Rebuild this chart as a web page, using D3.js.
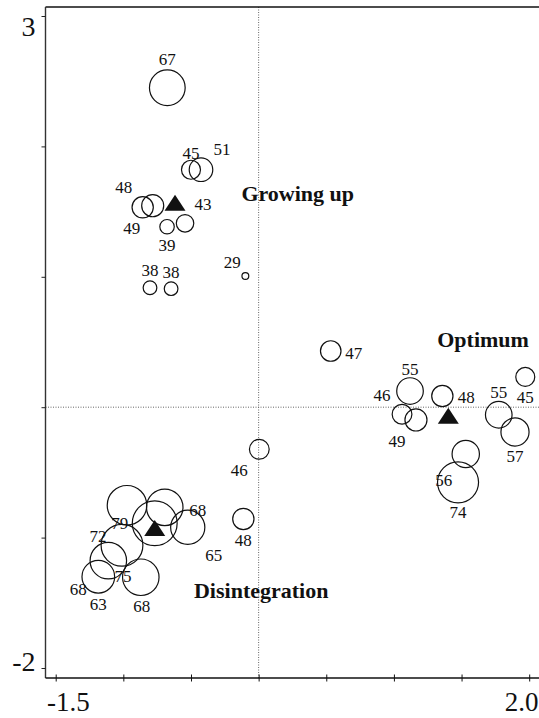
<!DOCTYPE html>
<html>
<head>
<meta charset="utf-8">
<script src="https://cdn.jsdelivr.net/npm/d3@7"></script>
<style>
  html, body { margin: 0; padding: 0; background: #fff; }
  svg { display: block; }
  text { font-family: "Liberation Serif", "Times New Roman", serif; fill: #111; }
</style>
</head>
<body>
<div id="chart"></div>
<script>
// Ordination scores of stands (axis 1, axis 2) with stand age as the label
const groups = ["Growing up", "Growing up", "Growing up", "Growing up", "Growing up",
  "Growing up", "Growing up", "Growing up", "Growing up", "Growing up",
  "Optimum", "Optimum", "Optimum", "Optimum", "Optimum",
  "Optimum", "Optimum", "Optimum", "Optimum", "Optimum",
  "Disintegration", "Disintegration", "Disintegration", "Disintegration", "Disintegration",
  "Disintegration", "Disintegration", "Disintegration", "Disintegration", "Disintegration"];
const axis1 = [-0.675, -0.500, -0.426, -0.857, -0.783, -0.544, -0.677, -0.803, -0.647, -0.098,
  0.533, 1.119, 1.060, 1.163, 1.358, 1.775, 1.971, 1.895, 1.531, 1.474,
  0.005, -0.113, -0.768, -1.010, -0.973, -0.694, -0.524, -1.111, -1.185, -0.871];
const axis2 = [2.450, 1.821, 1.821, 1.533, 1.545, 1.410, 1.384, 0.916, 0.909, 1.006,
  0.431, 0.124, -0.054, -0.098, 0.086, -0.058, 0.232, -0.190, -0.359, -0.576,
  -0.323, -0.857, -0.890, -1.059, -0.752, -0.768, -0.921, -1.177, -1.300, -1.304];
const ages = [67, 45, 51, 48, 49, 43, 39, 38, 38, 29,
  47, 55, 46, 49, 48, 55, 45, 57, 56, 74,
  46, 48, 79, 75, 72, 68, 65, 68, 63, 68];

// Group centroids
const centroidNames = ["Growing up", "Optimum", "Disintegration"];
const centroidX = [-0.618, 1.402, -0.768];
const centroidY = [1.568, -0.065, -0.926];

// Group name annotations
const groupLabelX = [0.289, 1.659, 0.019];
const groupLabelY = [1.584, 0.464, -1.466];

// Axis ticks
const xTicks = [-1.5, -1.0, -0.5, 0.0, 0.5, 1.0, 1.5, 2.0];
const xTickLabels = ["-1.5", "", "", "", "", "", "", "2.0"];
const yTicks = [-2, -1, 0, 1, 2, 3];
const yTickLabels = ["-2", "", "", "", "", "3"];

const W = 539, H = 718;
const frame = { left: 45.5, top: 7, bottom: 678, right: W };

const x = d3.scaleLinear().domain([-1.5, 2.0]).range([55.7, 529.2]);
const y = d3.scaleLinear().domain([-2, 3]).range([668, 16]);
const r = d3.scaleLinear().domain([20, 80]).range([0, 22.8]);

// label placement (pixel offsets of each age label from its circle)
const labelOffsets = [
  [0, -29], [0, -17], [21, -21], [-19, -20], [-21, 22], [18, -19], [0, 18], [0, -18], [0, -17], [-13, -14],
  [23, 2], [0, -22], [-20, -19], [-19, 21], [24, 1], [0, -23], [0, 20], [0, 24], [-22, 26], [0, 30],
  [-20, 21], [0, 21], [-35, 0], [1, 31], [-29, 31], [33, 3], [26, 28], [-30, 28], [0, 27], [1, 29]
];

const svg = d3.select("#chart").append("svg")
  .attr("width", W).attr("height", H)
  .style("background", "#fff");

// dotted zero lines
svg.append("line")
  .attr("x1", x(0)).attr("x2", x(0))
  .attr("y1", frame.top).attr("y2", frame.bottom)
  .attr("stroke", "#666").attr("stroke-width", 1).attr("stroke-dasharray", "1,1.5");
svg.append("line")
  .attr("x1", frame.left).attr("x2", frame.right)
  .attr("y1", y(0)).attr("y2", y(0))
  .attr("stroke", "#666").attr("stroke-width", 1).attr("stroke-dasharray", "1,1.5");

// frame lines
svg.append("line")
  .attr("x1", frame.left).attr("x2", frame.right)
  .attr("y1", frame.top).attr("y2", frame.top)
  .attr("stroke", "#111").attr("stroke-width", 1.6);
svg.append("line")
  .attr("x1", frame.left).attr("x2", frame.left)
  .attr("y1", frame.top).attr("y2", frame.bottom)
  .attr("stroke", "#333").attr("stroke-width", 1.4);
svg.append("line")
  .attr("x1", frame.left).attr("x2", frame.right)
  .attr("y1", frame.bottom).attr("y2", frame.bottom)
  .attr("stroke", "#111").attr("stroke-width", 1.4);

// y axis ticks
const yAxis = svg.append("g")
  .attr("transform", `translate(${frame.left},0)`)
  .call(d3.axisLeft(y).tickValues(yTicks).tickSize(4).tickPadding(6)
    .tickFormat((d, i) => yTickLabels[i]));
yAxis.select(".domain").remove();
yAxis.selectAll(".tick line").attr("stroke", "#222").attr("stroke-width", 1);
yAxis.selectAll(".tick text")
  .attr("font-size", 28).attr("font-family", "Liberation Serif, serif").attr("fill", "#111")
  .attr("x", -10)
  .attr("dy", d => d === 3 ? "0.7em" : (d === -2 ? "0.08em" : "0.32em"));

// x axis ticks
const xAxis = svg.append("g")
  .attr("transform", `translate(0,${frame.bottom})`)
  .call(d3.axisBottom(x).tickValues(xTicks).tickSize(3.5).tickPadding(0)
    .tickFormat((d, i) => xTickLabels[i]));
xAxis.select(".domain").remove();
xAxis.selectAll(".tick line").attr("stroke", "#111").attr("stroke-width", 1).attr("y1", -3.5);
xAxis.selectAll(".tick text")
  .attr("font-size", 27).attr("font-family", "Liberation Serif, serif").attr("fill", "#111")
  .attr("y", 33).attr("dy", 0)
  .attr("text-anchor", d => d === -1.5 ? "start" : (d === 2.0 ? "end" : "middle"))
  .attr("x", d => d === -1.5 ? frame.left + 1 - x(d) : (d === 2.0 ? W - 1 - x(d) : 0));

// stand circles
const pts = ages.map((a, i) => ({ age: a, g: groups[i], ax: axis1[i], ay: axis2[i], off: labelOffsets[i] }));

svg.append("g").selectAll("circle").data(pts).join("circle")
  .attr("cx", d => x(d.ax)).attr("cy", d => y(d.ay))
  .attr("r", d => r(d.age))
  .attr("fill", "none").attr("stroke", "#111").attr("stroke-width", 1.2);

svg.append("g").selectAll("text").data(pts).join("text")
  .attr("x", d => x(d.ax) + d.off[0]).attr("y", d => y(d.ay) + d.off[1])
  .attr("dy", "0.35em").attr("text-anchor", "middle")
  .attr("font-size", 17)
  .text(d => d.age);

// centroid triangles
const triW = 21, triH = 16;
svg.append("g").selectAll("path").data(centroidNames).join("path")
  .attr("transform", (d, i) => `translate(${x(centroidX[i])},${y(centroidY[i])})`)
  .attr("d", `M0,${-triH / 2}L${triW / 2},${triH / 2}L${-triW / 2},${triH / 2}Z`)
  .attr("fill", "#111");

// group names
svg.append("g").selectAll("text").data(centroidNames).join("text")
  .attr("x", (d, i) => x(groupLabelX[i])).attr("y", (d, i) => y(groupLabelY[i]))
  .attr("text-anchor", "middle")
  .attr("font-size", 22).attr("font-weight", "bold")
  .text(d => d);
</script>
</body>
</html>
